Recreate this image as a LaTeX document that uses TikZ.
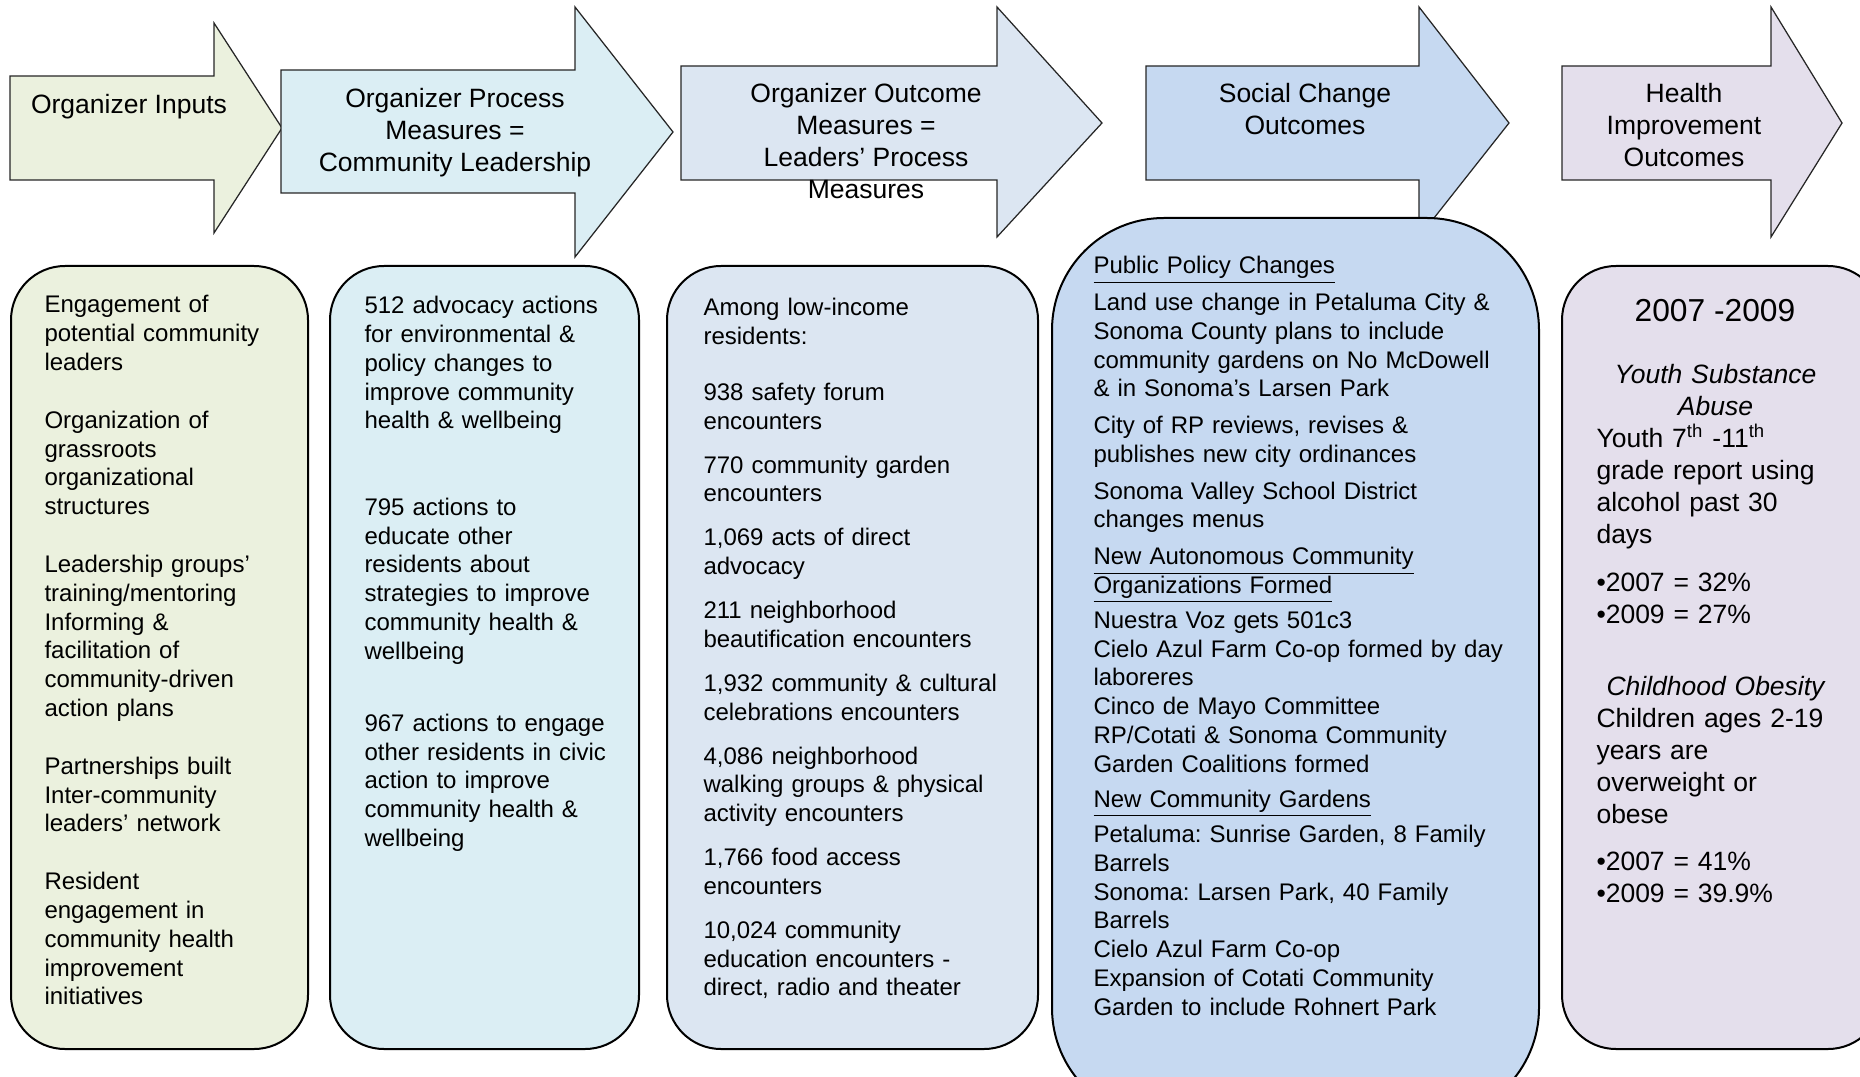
\documentclass[tikz,border=0pt]{standalone}
\usepackage{fontspec}
\setmainfont{Liberation Sans}
\usetikzlibrary{positioning}
\frenchspacing

\definecolor{inputgreen}{HTML}{EBF1DE}
\definecolor{processaqua}{HTML}{DBEEF4}
\definecolor{outcomeblue}{HTML}{DCE6F2}
\definecolor{socialblue}{HTML}{C6D9F1}
\definecolor{healthlilac}{HTML}{E4DFEC}
\newcommand{\boxheading}[1]{\smash{\underline{#1}}}

\begin{document}
\begin{tikzpicture}[x=0.4pt, y=-0.4pt,
    stagearrow/.style={draw=black!85, line width=0.5pt},
    arrowtext/.style={align=center, inner sep=0pt, font=\fontsize{10.6}{12.8}\selectfont},
    stagebox/.style={draw, line width=0.8pt, rounded corners=21.6pt, anchor=north west, inner sep=0pt, minimum height=313.2pt},
    boxtext/.style={align=left, text width=170pt, inner sep=0pt, font=\fontsize{9.6}{11.5}\selectfont}]
\useasboundingbox (0,0) rectangle (1860,1077);

% Flèches des étapes
\filldraw[stagearrow, fill=inputgreen] (10,76) -- (214,76) -- (214,23) -- (282,128) -- (214,233) -- (214,180) -- (10,180) -- cycle;
\node[arrowtext] (inputs) at (129,107) {Organizer Inputs};

\filldraw[stagearrow, fill=processaqua] (281,70) -- (575,70) -- (575,7) -- (673,132) -- (575,257) -- (575,193) -- (281,193) -- cycle;
\node[arrowtext] (process) at (455,133) {Organizer Process\\Measures =\\Community Leadership};

\filldraw[stagearrow, fill=outcomeblue] (681,66) -- (997,66) -- (997,7) -- (1102,123) -- (997,237) -- (997,180) -- (681,180) -- cycle;
\node[arrowtext] (outcome) at (866,141) {Organizer Outcome\\Measures =\\Leaders’ Process\\Measures};

\filldraw[stagearrow, fill=socialblue] (1146,66) -- (1419,66) -- (1419,7) -- (1509,123) -- (1419,237) -- (1419,180) -- (1146,180) -- cycle;
\node[arrowtext] (social) at (1305,109) {Social Change\\Outcomes};

\filldraw[stagearrow, fill=healthlilac] (1562,66) -- (1771,66) -- (1771,7) -- (1842,123) -- (1771,237) -- (1771,180) -- (1562,180) -- cycle;
\node[arrowtext] (health) at (1684,125) {Health\\Improvement\\Outcomes};

% Boîtes du bas
\node[stagebox, fill=inputgreen, minimum width=118.8pt] (inputsbox) at (10,265) {};
\node[boxtext, below right=12pt and 13.6pt of inputsbox.north west] (inputstext) {Engagement of\\potential community\\leaders\\[11.7pt]
Organization of\\grassroots\\organizational\\structures\\[11.7pt]
Leadership groups’\\training/mentoring\\Informing \&\\facilitation of\\community-driven\\action plans\\[11.7pt]
Partnerships built\\Inter-community\\leaders’ network\\[11.7pt]
Resident\\engagement in\\community health\\improvement\\initiatives};

\node[stagebox, fill=processaqua, minimum width=123.6pt] (processbox) at (329,265) {};
\node[boxtext, below right=12.4pt and 14pt of processbox.north west] (processtext) {512 advocacy actions\\for environmental \&\\policy changes to\\improve community\\health \& wellbeing\\[23.1pt]
795 actions to\\educate other\\residents about\\strategies to improve\\community health \&\\wellbeing\\[17.4pt]
967 actions to engage\\other residents in civic\\action to improve\\community health \&\\wellbeing};

\node[stagebox, fill=outcomeblue, minimum width=148.4pt] (outcomebox) at (666,265) {};
\node[boxtext, below right=13.2pt and 14.8pt of outcomebox.north west] (outcometext) {Among low-income\\residents:\\[10.8pt]
938 safety forum\\encounters\\[6.1pt]
770 community garden\\encounters\\[6.1pt]
1,069 acts of direct\\advocacy\\[6.1pt]
211 neighborhood\\beautification encounters\\[6.1pt]
1,932 community \& cultural\\celebrations encounters\\[6.1pt]
4,086 neighborhood\\walking groups \& physical\\activity encounters\\[6.1pt]
1,766 food access\\encounters\\[6.1pt]
10,024 community\\education encounters -\\direct, radio and theater};

\node[stagebox, fill=socialblue, rounded corners=44.8pt, minimum width=194.8pt, minimum height=360.8pt] (socialbox) at (1051,217) {};
\node[boxtext, below right=22.6pt and 16.8pt of socialbox.north west] (socialtext) {\boxheading{Public Policy Changes}\\[3.2pt]
Land use change in Petaluma City \&\\Sonoma County plans to include\\community gardens on No McDowell\\\& in Sonoma’s Larsen Park\\[3.2pt]
City of RP reviews, revises \&\\publishes new city ordinances\\[3.2pt]
Sonoma Valley School District\\changes menus\\[3.2pt]
\boxheading{New Autonomous Community}\\\boxheading{Organizations Formed}\\[2.4pt]
Nuestra Voz gets 501c3\\Cielo Azul Farm Co-op formed by day\\laboreres\\Cinco de Mayo Committee\\RP/Cotati \& Sonoma Community\\Garden Coalitions formed\\[2.6pt]
\boxheading{New Community Gardens}\\[2.6pt]
Petaluma: Sunrise Garden, 8 Family\\Barrels\\Sonoma: Larsen Park, 40 Family\\Barrels\\Cielo Azul Farm Co-op\\Expansion of Cotati Community\\Garden to include Rohnert Park};

\node[stagebox, fill=healthlilac, minimum width=128pt] (healthbox) at (1561,265) {};
\node[inner sep=0pt, font=\fontsize{12.7}{15}\selectfont] (healthyears) at (1715,311) {2007 -2009};
\node[boxtext, text width=95.2pt, font=\fontsize{10.6}{12.8}\selectfont, below right=39.6pt and 14pt of healthbox.north west] (healthtext) {{\centering\itshape Youth Substance\\Abuse\par}
Youth 7\textsuperscript{th} -11\textsuperscript{th}\\grade report using\\alcohol past 30\\days\\[6.2pt]
•2007 = 32\%\\•2009 = 27\%\par
\vspace{16.1pt}
{\centering\itshape Childhood Obesity\par}
Children ages 2-19\\years are\\overweight or\\obese\\[6.2pt]
•2007 = 41\%\\•2009 = 39.9\%};
\end{tikzpicture}
\end{document}
